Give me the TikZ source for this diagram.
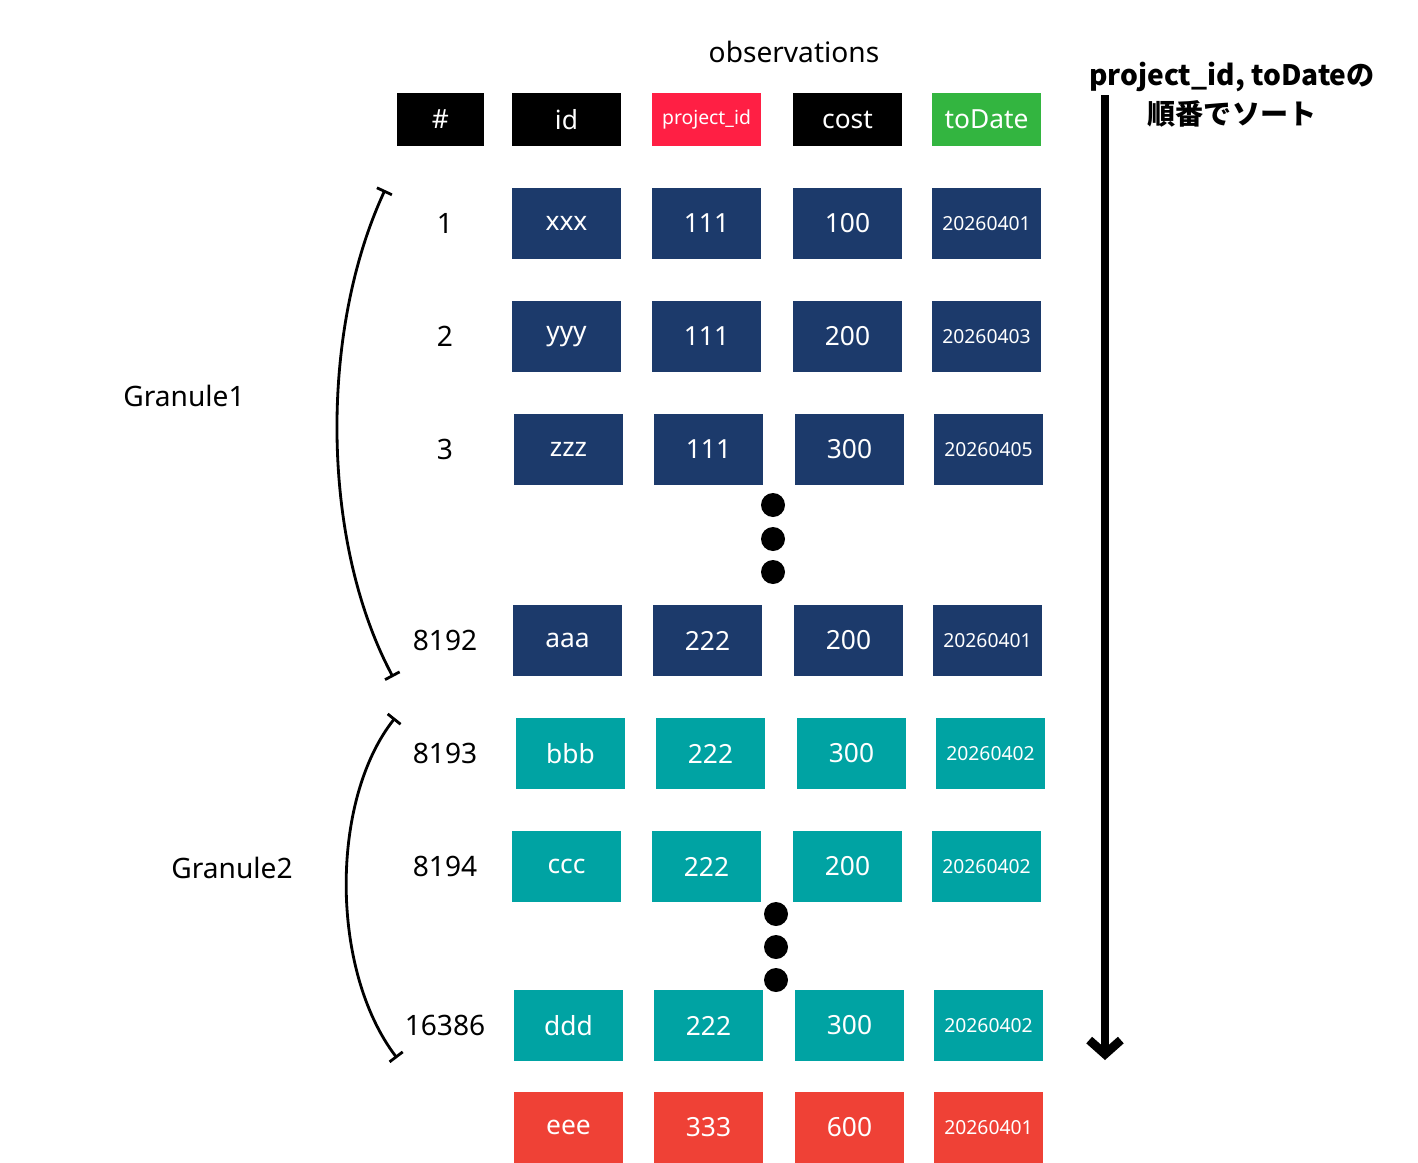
\documentclass[tikz,border=0pt]{standalone}
\usepackage{fontspec}
\setmainfont{Noto Sans}
\newfontfamily\cjk{Noto Sans CJK JP}
\usetikzlibrary{arrows.meta}
\definecolor{navy}{HTML}{1C3A6B}
\definecolor{tealc}{HTML}{00A3A3}
\definecolor{redc}{HTML}{EF4136}
\definecolor{pink}{HTML}{FF1F44}
\definecolor{greenc}{HTML}{33B540}
\tikzset{
 cell/.style={minimum width=109*0.02cm,minimum height=71*0.02cm,inner sep=0pt,text=white,font=\fontsize{15}{15}\selectfont},
 hcell/.style={cell,minimum height=53*0.02cm,fill=black},
 num/.style={font=\bfseries\fontsize{16}{16}\selectfont},
 dot/.style={circle,fill=black,minimum size=24*0.02cm,inner sep=0pt},
 brace/.style={line width=1.6pt,|-|}
}
\begin{document}
\begin{tikzpicture}[x=0.02cm,y=-0.02cm]
\useasboundingbox (0,0) rectangle (1418,1163);
\node[font=\bfseries\fontsize{16}{16}\selectfont] (title) at (794,52) {observations};
\node[hcell,minimum width=87*0.02cm] (h0) at (440.5,119.5) {\#};
\node[hcell] (h1) at (566.5,119.5) {id};
\node[hcell,fill=pink,font=\fontsize{11}{11}\selectfont] (h2) at (706.5,119.5) {project\_id};
\node[hcell] (h3) at (847.5,119.5) {cost};
\node[hcell,fill=greenc] (h4) at (986.5,119.5) {toDate};
% rows: y, xoffset, color, num, id, pid, cost, date
\foreach \y/\dx/\c/\n/\a/\b/\cc/\d/\k in {
 223.5/0/navy/1/xxx/111/100/20260401/r1,
 336.5/0/navy/2/yyy/111/200/20260403/r2,
 449.5/2/navy/3/zzz/111/300/20260405/r3,
 640.5/1/navy/8192/aaa/222/200/20260401/r4,
 753.5/4/tealc/8193/bbb/222/300/20260402/r5,
 866.5/0/tealc/8194/ccc/222/200/20260402/r6,
 1025.5/2/tealc/16386/ddd/222/300/20260402/r7,
 1127.5/2/redc//eee/333/600/20260401/r8}{
 \node[num] (\k n) at (445,\y) {\n};
 \node[cell,fill=\c] (\k a) at (566.5+\dx,\y) {\a};
 \node[cell,fill=\c] (\k b) at (706.5+\dx,\y) {\b};
 \node[cell,fill=\c] (\k c) at (847.5+\dx,\y) {\cc};
 \node[cell,fill=\c,font=\fontsize{11}{11}\selectfont] (\k d) at (986.5+\dx,\y) {\d};
}
\foreach \y [count=\i] in {505,539,572} \node[dot] (da\i) at (773,\y) {};
\foreach \y [count=\i] in {914,947,980} \node[dot] (db\i) at (776,\y) {};
\node[num] (g1) at (184,396) {Granule1};
\node[num] (g2) at (232,868) {Granule2};
\coordinate (b1s) at (385,190); \coordinate (b1e) at (393,677);
\coordinate (b2s) at (395,718); \coordinate (b2e) at (397,1058);
\draw[brace] (b1s) .. controls (320,330) and (320,540) .. (b1e);
\draw[brace] (b2s) .. controls (330,800) and (330,970) .. (b2e);
\coordinate (as) at (1105,95); \coordinate (ae) at (1105,1060);
\draw[line width=5pt,-{Straight Barb[length=8pt,width=18pt,line width=5pt]}] (as) -- (ae);
\node[num,align=center] (lbl) at (1232,95) {\cjk\bfseries project\_id, toDateの\\[4pt]\cjk\bfseries 順番でソート};
\end{tikzpicture}
\end{document}
